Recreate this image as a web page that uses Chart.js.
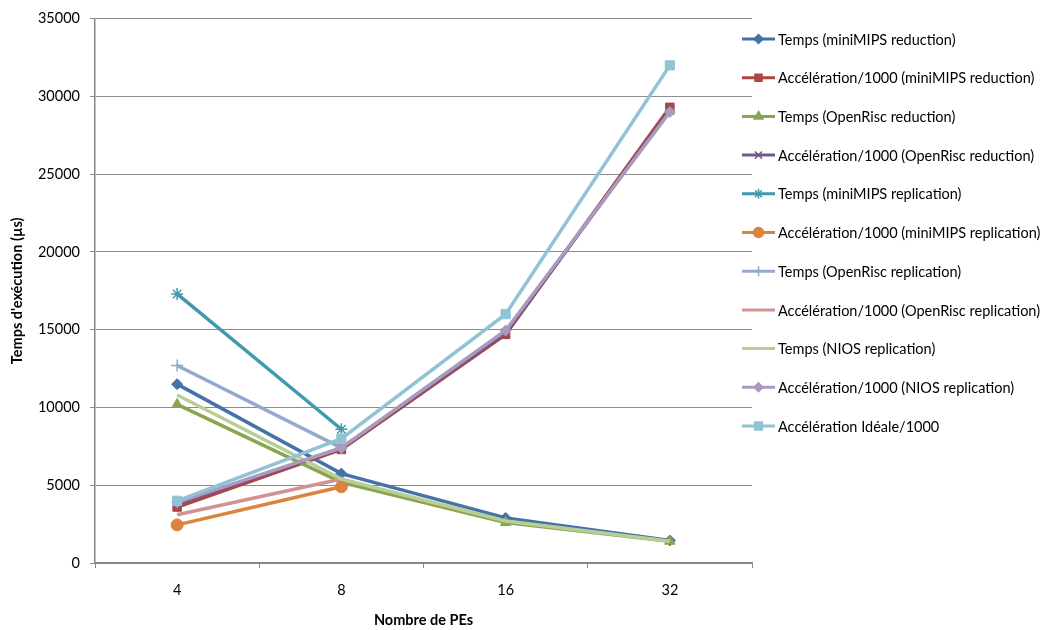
<!DOCTYPE html>
<html>
<head>
<meta charset="utf-8">
<script src="https://cdn.jsdelivr.net/npm/chart.js@4/dist/chart.umd.min.js"></script>
<style>
  html, body { margin: 0; padding: 0; background: #fff; }
  #wrap { width: 1052px; height: 630px; position: relative; }
</style>
</head>
<body>
<div id="wrap"><canvas id="chart" width="1052" height="630"></canvas></div>
<script>
const categories = ["4", "8", "16", "32"];

const seriesNames = [
  "Temps (miniMIPS reduction)",
  "Accélération/1000 (miniMIPS reduction)",
  "Temps (OpenRisc reduction)",
  "Accélération/1000 (OpenRisc reduction)",
  "Temps (miniMIPS replication)",
  "Accélération/1000 (miniMIPS replication)",
  "Temps (OpenRisc replication)",
  "Accélération/1000 (OpenRisc replication)",
  "Temps (NIOS replication)",
  "Accélération/1000 (NIOS replication)",
  "Accélération Idéale/1000"
];

const tempsMiniMipsReduction = [11500, 5750, 2900, 1450];
const accelMiniMipsReduction = [3600, 7300, 14700, 29300];
const tempsOpenRiscReduction = [10200, 5180, 2600, 1400];
const accelOpenRiscReduction = [3800, 7400, 14800, 29100];
const tempsMiniMipsReplication = [17300, 8600, null, null];
const accelMiniMipsReplication = [2450, 4900, null, null];
const tempsOpenRiscReplication = [12700, 7400, null, null];
const accelOpenRiscReplication = [3100, 5400, null, null];
const tempsNiosReplication = [10800, 5400, 2700, 1400];
const accelNiosReplication = [3900, 7400, 14950, 29000];
const accelIdeale = [4000, 8000, 16000, 32000];

const seriesData = [
  tempsMiniMipsReduction, accelMiniMipsReduction, tempsOpenRiscReduction,
  accelOpenRiscReduction, tempsMiniMipsReplication, accelMiniMipsReplication,
  tempsOpenRiscReplication, accelOpenRiscReplication, tempsNiosReplication,
  accelNiosReplication, accelIdeale
];

const colors = [
  "#4572A7", "#AA4643", "#89A54E", "#71588F", "#4198AF", "#DB843D",
  "#93A9CF", "#D19392", "#B9CD96", "#A99BBD", "#92C3D4"
];
const markers = ["rectRot", "rect", "triangle", "crossRot", "star", "circle",
  "cross", false, false, "rectRot", "rect"];
const markerSizes = [5.5, 6, 6, 6, 6, 6, 6, 0, 0, 5.5, 6.5];

const FONT = "Lato, 'Open Sans', sans-serif";
const FONT_SIZE = 14.5;

const datasets = seriesData.map((data, i) => ({
  label: seriesNames[i],
  data: data,
  borderColor: colors[i],
  backgroundColor: colors[i],
  borderWidth: 3.5,
  pointStyle: markers[i] || "circle",
  pointRadius: markerSizes[i],
  pointBorderWidth: (markers[i] === "cross" || markers[i] === "crossRot" || markers[i] === "star") ? 1.5 : 1,
  pointHoverRadius: markerSizes[i],
  tension: 0,
  spanGaps: false,
  order: -i
}));

const legendPlugin = {
  id: "sideLegend",
  afterDraw(chart) {
    const ctx = chart.ctx;
    ctx.save();
    ctx.font = FONT_SIZE + "px " + FONT;
    ctx.textBaseline = "middle";
    ctx.textAlign = "left";
    seriesNames.forEach((name, i) => {
      const y = 39 + i * 38.7;
      ctx.strokeStyle = colors[i];
      ctx.lineWidth = 3;
      ctx.beginPath();
      ctx.moveTo(742, y);
      ctx.lineTo(775, y);
      ctx.stroke();
      if (markers[i]) {
        ctx.fillStyle = colors[i];
        ctx.strokeStyle = colors[i];
        ctx.lineWidth = 1.5;
        Chart.helpers.drawPoint(ctx, {
          pointStyle: markers[i],
          radius: markerSizes[i] - 1,
          rotation: 0,
          borderWidth: 1.5
        }, 758.5, y);
      }
      ctx.fillStyle = "#000";
      ctx.fillText(name, 778, y + 1);
    });
    ctx.restore();
  }
};

new Chart(document.getElementById("chart"), {
  type: "line",
  data: { labels: categories, datasets: datasets },
  options: {
    responsive: false,
    animation: false,
    events: [],
    layout: { padding: { top: 16, right: 300, left: 0, bottom: 0 } },
    plugins: { legend: { display: false }, tooltip: { enabled: false } },
    scales: {
      x: {
        offset: true,
        grid: { display: true, drawOnChartArea: false, offset: true, tickLength: 5, color: "#868686", lineWidth: 1 },
        border: { display: true, color: "#868686", width: 1.5 },
        ticks: { color: "#000", font: { family: FONT, size: FONT_SIZE }, padding: 14, maxRotation: 0 },
        title: { display: true, text: "Nombre de PEs", color: "#000", font: { family: FONT, size: FONT_SIZE, weight: "bold" }, padding: { top: 1, bottom: 1 } },
        afterFit(scale) { scale.height = 67; }
      },
      y: {
        min: 0,
        max: 35000,
        ticks: { stepSize: 5000, color: "#000", font: { family: FONT, size: FONT_SIZE }, padding: 10,
          callback: (value) => String(value) },
        grid: { color: "#8c8c8c", lineWidth: 1, tickLength: 5 },
        border: { display: true, color: "#868686", width: 1.5 },
        title: { display: true, text: "Temps d'exécution (µs)", color: "#000", font: { family: FONT, size: FONT_SIZE, weight: "bold" }, padding: { top: 9, bottom: 2 } },
        afterFit(scale) { scale.width = 95; }
      }
    }
  },
  plugins: [legendPlugin]
});
</script>
</body>
</html>
